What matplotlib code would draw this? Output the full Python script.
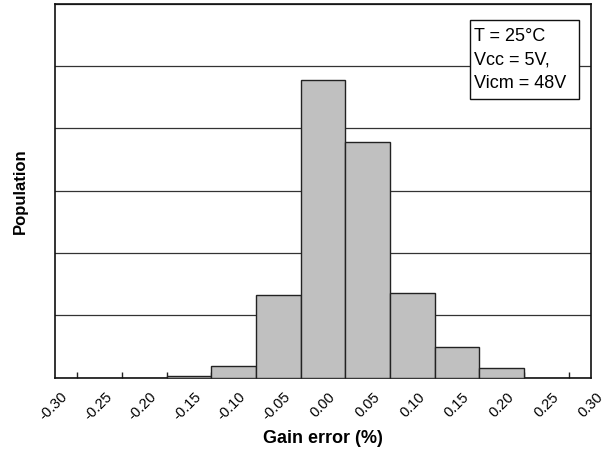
import numpy as np
import matplotlib
matplotlib.use('Agg')
import matplotlib.pyplot as plt
import matplotlib.transforms as mtransforms
from matplotlib.patches import Rectangle
from matplotlib.ticker import MultipleLocator

plt.rcParams['font.family'] = ['Liberation Sans', 'DejaVu Sans']

# histogram of gain error, bin centres and relative counts
bin_centers = [-0.15, -0.10, -0.05, 0.00, 0.05, 0.10, 0.15, 0.20]
counts = [0.2, 1.8, 13.3, 47.8, 37.8, 13.5, 4.9, 1.6]
tick_values = [-0.30, -0.25, -0.20, -0.15, -0.10, -0.05, 0.00,
               0.05, 0.10, 0.15, 0.20, 0.25, 0.30]
tick_labels = ['%.2f' % v for v in tick_values]

fig = plt.figure(figsize=(6.11, 4.52), dpi=100)
ax = fig.add_axes([0.090, 0.1626, 0.8773, 0.827])

ax.set_xlim(-0.30, 0.30)
ax.set_ylim(0, 60)

ax.yaxis.set_major_locator(MultipleLocator(10))
ax.grid(axis='y', color='#333333', linewidth=0.9)
ax.set_axisbelow(True)

ax.bar(bin_centers, counts, width=0.05, color='#c0c0c0',
       edgecolor='#222222', linewidth=1.0, zorder=3)

# labels at the bin centres, small tick marks between them
ax.set_xticks(tick_values)
ax.set_xticklabels(tick_labels, rotation=45, ha='right', va='center',
                   rotation_mode='anchor', fontsize=10.5)
ax.tick_params(axis='x', which='major', length=0, pad=8)
shift = mtransforms.ScaledTranslation(0.10, -0.05, fig.dpi_scale_trans)
for lab in ax.get_xticklabels():
    lab.set_transform(lab.get_transform() + shift)
ax.set_xticks(np.array(tick_values[:-1]) + 0.025, minor=True)
ax.tick_params(axis='x', which='minor', direction='in', length=4, width=1, color='#222222')
ax.tick_params(axis='y', which='both', left=False, labelleft=False)

for s in ax.spines.values():
    s.set_linewidth(1.2)
    s.set_color('#111111')

ax.set_xlabel('Gain error (%)', fontsize=13, fontweight='bold')
ax.xaxis.set_label_coords(0.5, -0.138)
ax.set_ylabel('Population', fontsize=12, fontweight='bold')
ax.yaxis.set_label_coords(-0.050, 0.5)

# condition box
ax.add_patch(Rectangle((0.775, 0.745), 0.203, 0.211, transform=ax.transAxes,
                       facecolor='white', edgecolor='#111111', linewidth=1.0, zorder=5))
ax.text(0.782, 0.938, 'T = 25°C\nVcc = 5V,\nVicm = 48V', transform=ax.transAxes,
        fontsize=13, ha='left', va='top', linespacing=1.5, zorder=6)

fig.savefig('out.png', dpi=100)
